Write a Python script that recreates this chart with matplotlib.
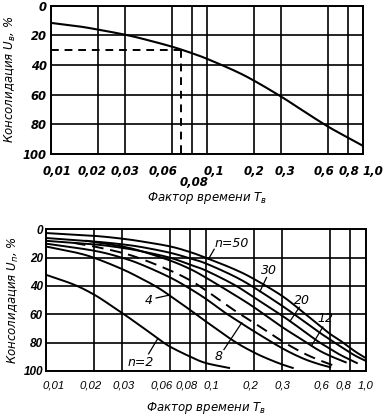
import numpy as np
import matplotlib
matplotlib.use("Agg")
import matplotlib.pyplot as plt
from matplotlib.ticker import NullLocator
from matplotlib.transforms import ScaledTranslation

# top chart: vertical consolidation
t_top = [0.01, 0.015, 0.02, 0.03, 0.04, 0.06, 0.08, 0.1, 0.15, 0.2, 0.3, 0.4, 0.5, 0.6, 0.7, 0.8, 0.9, 1.0]
u_top = [11.5, 13.8, 16, 19.5, 22.6, 27.6, 31.9, 35.7, 43.7, 50.4, 61.3, 69.8, 76.4, 81.6, 85.6, 88.9, 91.8, 94.5]
t_mark, u_mark = 0.068, 30

x_ticks = [0.01, 0.02, 0.03, 0.06, 0.08, 0.1, 0.2, 0.3, 0.6, 0.8, 1.0]
x_top_labels = ['0,01', '0,02', '0,03', '0,06', '', '0,1', '0,2', '0,3', '0,6', '0,8', '1,0']
x_bot_labels = ['0,01', '0,02', '0,03', '0,06', '0,08', '0,1', '0,2', '0,3', '0,6', '0,8', '1,0']
y_ticks = [0, 20, 40, 60, 80, 100]

# bottom chart: radial consolidation for different n
t_n2 = [0.01, 0.015, 0.02, 0.025, 0.03, 0.04, 0.05, 0.06, 0.08, 0.1, 0.14]
u_n2 = [32, 39, 46, 53, 59, 69, 77, 83, 90, 94.5, 98]
t_n4 = [0.01, 0.015, 0.02, 0.03, 0.04, 0.05, 0.06, 0.08, 0.1, 0.15, 0.2, 0.25, 0.3, 0.35]
u_n4 = [12, 16, 20, 28, 35, 41, 47, 57, 65, 79, 87, 92, 95.5, 98]
t_n8 = [0.01, 0.02, 0.03, 0.04, 0.06, 0.08, 0.1, 0.125, 0.15, 0.2, 0.3, 0.4, 0.5, 0.6]
u_n8 = [10, 15, 20, 25, 34, 42, 49, 57, 63, 72, 84, 91, 95, 97.5]
t_dash = [0.015, 0.02, 0.03, 0.04, 0.06, 0.08, 0.1, 0.15, 0.2, 0.3, 0.4, 0.5, 0.62]
u_dash = [9.5, 12, 16.5, 21, 29, 36, 43, 57, 66, 79, 87, 92, 96]
t_n12 = [0.018, 0.02, 0.03, 0.04, 0.06, 0.08, 0.1, 0.15, 0.2, 0.3, 0.4, 0.5, 0.6, 0.75]
u_n12 = [8, 8.8, 12, 15.5, 22, 28, 34, 46, 55, 69, 78, 85, 89.5, 94]
t_n20 = [0.01, 0.02, 0.03, 0.04, 0.06, 0.08, 0.1, 0.15, 0.2, 0.3, 0.4, 0.5, 0.6, 0.7, 0.88]
u_n20 = [8, 10.5, 13, 15.5, 20, 25, 29, 39, 48, 61, 71, 79, 84.5, 89, 94.5]
t_n30 = [0.01, 0.02, 0.03, 0.04, 0.06, 0.08, 0.1, 0.15, 0.2, 0.3, 0.4, 0.5, 0.6, 0.7, 0.85, 1.0]
u_n30 = [6, 8.5, 10.5, 12.5, 16.5, 20.5, 24, 33, 41, 54, 64, 72, 78, 83, 89, 93]
t_n50 = [0.01, 0.02, 0.03, 0.04, 0.06, 0.08, 0.1, 0.15, 0.2, 0.3, 0.4, 0.5, 0.6, 0.7, 0.85, 1.0]
u_n50 = [2.5, 4.5, 6.5, 8.5, 12, 16, 20, 28, 35, 47, 58, 67, 74, 79, 86, 91]

# label text, text position, pointer start, pointer end
labels = ['n=50', '30', '20', '12', '8', '4', 'n=2']
label_pos = [(0.145, 10), (0.25, 29), (0.40, 50), (0.56, 63), (0.12, 90), (0.044, 50), (0.039, 94)]
ptr_from = [(0.113, 14), (0.24, 34), (0.385, 55), (0.54, 69), (0.13, 85), (0.049, 48.5), (0.044, 88)]
ptr_to = [(0.104, 21), (0.218, 44), (0.336, 65), (0.46, 82), (0.168, 66), (0.059, 46.5), (0.05, 77.5)]

# small horizontal shifts (px) of tick labels, as set in the original figure
top_shift = [6, -6, 0, -9, 0, 7, 0, 4, -4, 1, 10]
bot_shift = [8, -3, 2, -9, -4, 6, -3, 0, -9, -7, 0]


def smooth(t, u, k=24):
    x = np.log10(t)
    y = np.asarray(u, float)
    px = np.r_[2 * x[0] - x[1], x, 2 * x[-1] - x[-2]]
    py = np.r_[2 * y[0] - y[1], y, 2 * y[-1] - y[-2]]
    s = np.linspace(0, 1, k, endpoint=False)
    xs, ys = [], []
    for i in range(1, len(px) - 2):
        for arr, out in ((px, xs), (py, ys)):
            p0, p1, p2, p3 = arr[i - 1:i + 3]
            out.append(0.5 * (2 * p1 + (-p0 + p2) * s + (2 * p0 - 5 * p1 + 4 * p2 - p3) * s ** 2
                              + (-p0 + 3 * p1 - 3 * p2 + p3) * s ** 3))
    xs = np.r_[np.concatenate(xs), x[-1]]
    ys = np.r_[np.concatenate(ys), y[-1]]
    return 10 ** xs, ys


def style_axes(ax, xlabels, shifts, xfont, yfont, xpad, ypad):
    ax.set_xscale('log')
    ax.set_xlim(0.01, 1.0)
    ax.set_ylim(100, 0)
    ax.set_xticks(x_ticks)
    ax.xaxis.set_minor_locator(NullLocator())
    ax.set_xticklabels(xlabels, **xfont)
    ax.set_yticks(y_ticks)
    ax.set_yticklabels([str(v) for v in y_ticks], **yfont)
    ax.tick_params(axis='x', length=0, pad=xpad)
    ax.tick_params(axis='y', length=0, pad=ypad)
    ax.grid(True, color='black', lw=1.2)
    for sp in ax.spines.values():
        sp.set_linewidth(1.4)
    for lbl, dx in zip(ax.get_xticklabels(), shifts):
        lbl.set_transform(lbl.get_transform() + ScaledTranslation(dx / 100, 0, fig.dpi_scale_trans))


plt.rcParams['mathtext.fontset'] = 'dejavusans'

fig = plt.figure(figsize=(3.87, 4.18), dpi=100)

top_x = dict(family='DejaVu Sans', fontsize=8.5, style='italic', fontweight='bold')
top_y = dict(family='DejaVu Sans', fontsize=8.3, style='italic', fontweight='bold')
ax1 = fig.add_axes([0.131, 0.632, 0.806, 0.354])
style_axes(ax1, x_top_labels, top_shift, top_x, top_y, 8, 3)
xs, ys = smooth(t_top, u_top)
ax1.plot(xs, ys, color='black', lw=1.5)
ax1.plot([0.01, t_mark], [u_mark, u_mark], color='black', lw=1.4, dashes=(4, 3))
ax1.plot([t_mark, t_mark], [u_mark, 100], color='black', lw=1.4, dashes=(4, 3))
# the 0,08 tick label sits on a second row
ax1.annotate('0,08', xy=(0.08, 100), xycoords='data', xytext=(2, -21), textcoords='offset points',
             ha='center', va='center', **top_x)
ax1.set_ylabel('Консолидация $U_в$, %', fontsize=8.5, style='italic', labelpad=3)
ax1.set_xlabel('Фактор времени $T_в$', fontsize=8.5, style='italic', labelpad=9)

ax2 = fig.add_axes([0.118, 0.113, 0.827, 0.338])
style_axes(ax2, x_bot_labels, bot_shift,
           dict(family='Liberation Sans', fontsize=8.2, style='italic'),
           dict(family='Liberation Sans', fontsize=8.5, style='italic', fontweight='bold'), 7, 2)
curves = [(t_n2, u_n2), (t_n4, u_n4), (t_n8, u_n8), (t_n12, u_n12),
          (t_n20, u_n20), (t_n30, u_n30), (t_n50, u_n50)]
for t, u in curves:
    xs, ys = smooth(t, u)
    ax2.plot(xs, ys, color='black', lw=1.4)
xs, ys = smooth(t_dash, u_dash)
ax2.plot(xs, ys, color='black', lw=1.4, dashes=(6, 3.5))

for txt, pos, p0, p1 in zip(labels, label_pos, ptr_from, ptr_to):
    ax2.text(pos[0], pos[1], txt, fontsize=9, style='italic', ha='center', va='center')
    ax2.plot([p0[0], p1[0]], [p0[1], p1[1]], color='black', lw=0.9)

ax2.set_ylabel('Консолидация $U_п$, %', fontsize=8.5, style='italic', labelpad=2)
ax2.set_xlabel('Фактор времени $T_в$', fontsize=8.5, style='italic', labelpad=7)

fig.savefig('out.png', dpi=100)
